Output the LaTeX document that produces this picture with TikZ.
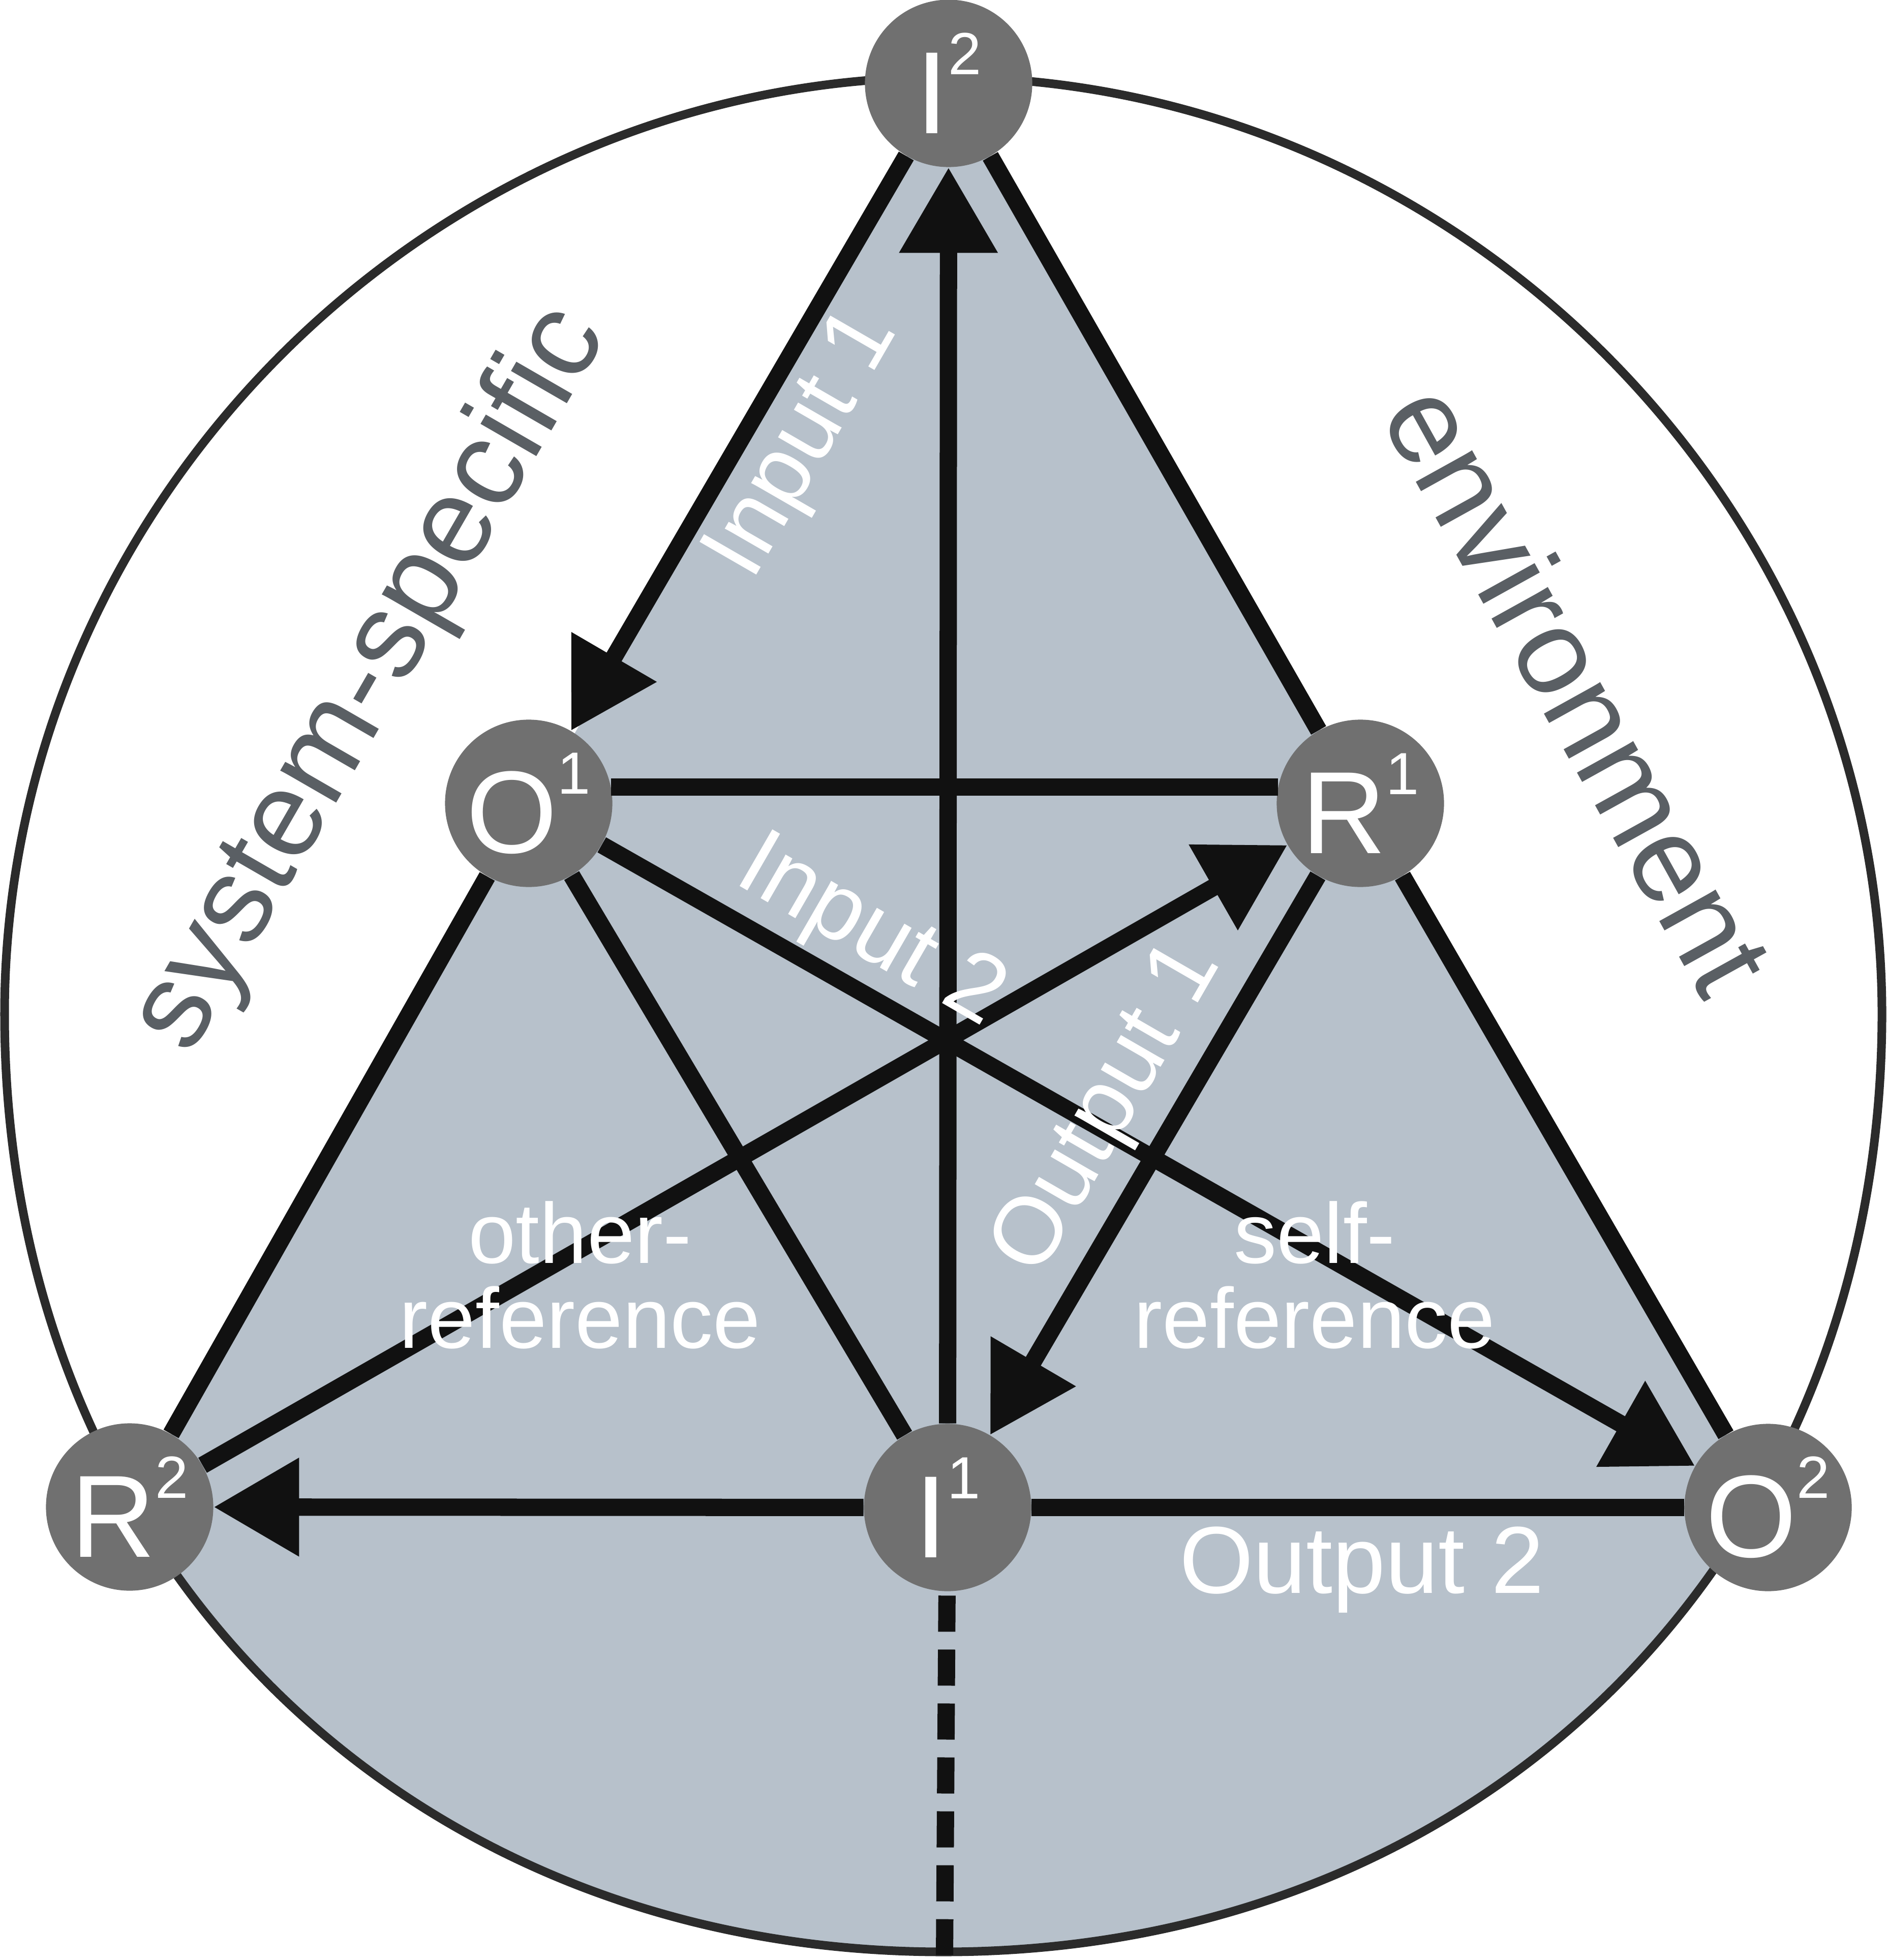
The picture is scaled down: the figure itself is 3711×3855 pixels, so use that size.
\documentclass[tikz,border=0pt]{standalone}
\usepackage{fontspec}
\setmainfont[Ligatures=NoCommon]{Liberation Sans}
\usetikzlibrary{arrows.meta,backgrounds}
\definecolor{shadefill}{HTML}{B7C1CB}
\definecolor{nodegrey}{HTML}{707070}
\definecolor{linecol}{HTML}{111111}
\definecolor{rimcol}{HTML}{2B2B2B}
\definecolor{labelgrey}{HTML}{5A5F64}
\newcommand{\pw}[1]{\raisebox{1.16cm}{\fontsize{1.17cm}{1.2cm}\selectfont #1}}
\newcommand{\rimpath}{(1856,152) .. controls (850,152) and (9,988) .. (9,1994)
  .. controls (9,3060) and (790,3839) .. (1856,3839)
  .. controls (2922,3839) and (3702,3060) .. (3702,1994)
  .. controls (3702,988) and (2862,152) .. (1856,152) -- cycle}

\begin{document}
\begin{tikzpicture}[x=0.01cm, y=-0.01cm,
		>={Triangle[length=1.68cm,width=1.85cm]},
		pole/.style={circle, fill=nodegrey, minimum size=3.29cm, inner sep=0pt,
			text=white, font=\fontsize{2.3cm}{2.76cm}\selectfont},
		link/.style={line width=0.34cm, draw=linecol},
		flowlabel/.style={text=white, anchor=base, inner sep=0pt,
			font=\fontsize{1.87cm}{2.2cm}\selectfont},
		reflabel/.style={text=white, align=center, inner sep=0pt,
			font=\fontsize{1.68cm}{1.67cm}\selectfont},
		sidelabel/.style={text=labelgrey, anchor=base, inner sep=0pt,
			font=\fontsize{2.4cm}{2.8cm}\selectfont}]
	\useasboundingbox (0,0) rectangle (3711,3855);
	% poles
	\node[pole] (I2) at (1866,164) {I\pw{2}};
	\node[pole] (O1) at (1040,1580) {O\pw{1}};
	\node[pole] (R1) at (2676,1580) {R\pw{1}};
	\node[pole] (R2) at (255,2964) {R\pw{2}};
	\node[pole] (I1) at (1864,2965) {I\pw{1}};
	\node[pole] (O2) at (3478,2965) {O\pw{2}};
	\coordinate (rimbottom) at (1858,3845);
	% shaded area and rim
	\begin{scope}[on background layer]
		\begin{scope}
			\clip \rimpath;
			\fill[shadefill] (I2.center) -- (R2.center) -- (255,3900) -- (3478,3900) -- (O2.center) -- cycle;
		\end{scope}
		\draw[rimcol, line width=0.17cm] \rimpath;
	\end{scope}
	% outer triangle
	\draw[link,->] (I2) -- (O1);
	\draw[link] (O1) -- (R2);
	\draw[link] (I2) -- (R1);
	\draw[link] (R1) -- (O2);
	\draw[link,->] (I1) -- (R2);
	\draw[link] (I1) -- (O2);
	% inner lines
	\draw[link] (O1.11) -- (R1.169);
	\draw[link] (O1) -- (I1);
	\draw[link,->] (I1) -- (I2);
	\draw[link,->] (O1) -- (O2);
	\draw[link,->] (R2) -- (R1);
	\draw[link,->] (R1) -- (I1);
	\draw[link, dash pattern=on 0.71cm off 0.35cm, shorten <=0.08cm] (I1) -- (rimbottom);
	% labels
	\node[flowlabel, rotate=60] (in1) at (1623,898) {Input 1};
	\node[flowlabel, rotate=-30] (in2) at (1688,1878) {Input 2};
	\node[flowlabel, rotate=60] (out1) at (2222,2205) {Output 1};
	\node[flowlabel] (out2) at (2679,3133) {Output 2};
	\node[reflabel] (otherref) at (1141,2508) {other-\\reference};
	\node[reflabel] (selfref) at (2586,2508) {self-\\reference};
	\node[sidelabel, rotate=60] (sysspec) at (784,1368) {system-specific};
	\node[sidelabel, rotate=-61] (envir) at (3033,1395) {environment};
\end{tikzpicture}
\end{document}
